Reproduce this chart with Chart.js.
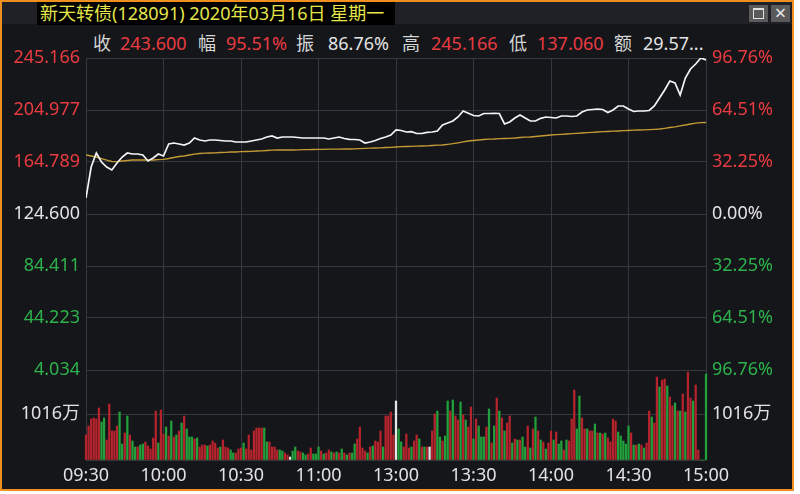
<!DOCTYPE html>
<html>
<head>
<meta charset="utf-8">
<script src="https://cdn.jsdelivr.net/npm/chart.js@4.4.1/dist/chart.umd.min.js"></script>
<style>
  body { margin: 0; width: 800px; height: 494px; overflow: hidden; background: #ffffff;
         font-family: "Noto Sans", "Noto Sans CJK SC", sans-serif; }
  #frame { position: absolute; left: 0; top: 0; width: 794px; height: 491px; box-sizing: border-box;
           border: 2px solid #ef8f1f; background: #14161a; }
  #topbar { position: absolute; left: 2px; top: 2px; width: 790px; height: 22px; background: #1f2126; }
  #title { position: absolute; left: 37px; top: 2px; width: 355px; height: 23px; padding-left: 3px;
           background: #000; color: #e6e64a; font-size: 18px; line-height: 23px; white-space: nowrap; }
  .btn { position: absolute; top: 5px; width: 19px; height: 17px; background: #5a5a5a; }
  #maxi { left: 749px; }
  #maxi span { position: absolute; left: 4px; top: 3px; width: 9px; height: 8px; border: 1px solid #e0e0e0; border-top-width: 2px; }
  #close { left: 771px; color: #e8e8e8; font-size: 20px; line-height: 16px; text-align: center; }
  .hd { position: absolute; top: 31px; font-size: 18px; line-height: 24px; color: #d6d6d6; white-space: nowrap; }
  .red { color: #ea3b41; }
  .wht { color: #e4e4e4; }
  canvas { position: absolute; left: 0; top: 0; }
</style>
</head>
<body>
<div id="frame"></div>
<div id="topbar"></div>
<div id="title">新天转债(128091) 2020年03月16日 星期一</div>
<div class="btn" id="maxi"><span></span></div>
<div class="btn" id="close">×</div>
<div class="hd" style="left:93px">收</div>
<div class="hd red" style="left:120px">243.600</div>
<div class="hd" style="left:198px">幅</div>
<div class="hd red" style="left:226px">95.51%</div>
<div class="hd" style="left:296px">振</div>
<div class="hd wht" style="left:328px">86.76%</div>
<div class="hd" style="left:402px">高</div>
<div class="hd red" style="left:431px">245.166</div>
<div class="hd" style="left:509px">低</div>
<div class="hd red" style="left:537px">137.060</div>
<div class="hd" style="left:614px">额</div>
<div class="hd wht" style="left:643px">29.57...</div>
<canvas id="c" width="800" height="494"></canvas>
<script>
// minute index 0..240 (09:30-11:30, 13:00-15:00)
const minuteTicks = [0, 30, 60, 90, 120, 150, 180, 210, 240];
const timeLabels = ["09:30", "10:00", "10:30", "11:00", "13:00", "13:30", "14:00", "14:30", "15:00"];

// price sampled every 2 minutes
const priceStep = 2;
const price = [
  137.06, 160.92, 171.74, 164.79, 160.92, 158.61, 164.02, 168.65, 171.74, 170.97,
  170.97, 170.20, 165.56, 167.88, 170.97, 169.43, 178.70, 179.47, 178.70, 177.93,
  179.47, 183.34, 181.79, 181.02, 181.79, 181.79, 181.40, 181.02, 181.02, 180.25,
  180.25, 180.25, 181.02, 181.79, 182.56, 184.11, 184.88, 183.34, 184.11, 184.11,
  184.11, 183.72, 183.34, 183.34, 183.34, 183.34, 183.34, 182.56, 183.34, 184.11,
  182.95, 182.33, 182.18, 181.79, 179.47, 180.25, 181.40, 182.95, 184.11, 185.66,
  189.52, 189.13, 187.97, 188.21, 186.82, 186.82, 187.74, 187.97, 188.75, 193.38,
  194.93, 196.48, 199.57, 204.20, 202.43, 200.73, 200.34, 202.27, 202.27, 202.43,
  202.27, 194.16, 195.70, 198.79, 201.11, 198.79, 196.48, 196.48, 198.56, 199.57,
  199.18, 198.79, 200.34, 200.34, 199.95, 200.34, 203.43, 204.98, 205.36, 205.75,
  205.36, 203.05, 204.98, 208.07, 208.07, 205.75, 203.82, 204.20, 204.20, 204.59,
  208.07, 214.25, 220.43, 227.39, 225.84, 216.57, 229.71, 236.66, 240.53, 245.166,
  243.60
];
const avgPrice = [
  170.20, 169.43, 168.65, 167.49, 166.33, 165.18, 165.02, 165.56, 165.95, 166.33,
  166.33, 166.33, 166.33, 166.33, 166.57, 166.88, 167.49, 168.27, 169.04, 169.43,
  170.20, 170.82, 171.36, 171.59, 171.74, 171.90, 172.13, 172.29, 172.52, 172.52,
  172.75, 172.90, 173.06, 173.29, 173.44, 173.68, 173.91, 174.06, 174.06, 174.06,
  174.06, 174.22, 174.29, 174.37, 174.45, 174.53, 174.60, 174.68, 174.68, 174.76,
  174.84, 174.84, 174.99, 175.15, 175.30, 175.46, 175.61, 175.76, 176.00, 176.15,
  176.38, 176.61, 176.77, 176.92, 177.00, 177.15, 177.31, 177.54, 177.77, 177.93,
  178.47, 178.93, 179.63, 180.40, 181.02, 181.41, 181.79, 182.18, 182.41, 182.56,
  182.80, 182.95, 183.11, 183.34, 183.72, 183.96, 184.11, 184.50, 184.88, 185.27,
  185.66, 185.89, 186.20, 186.43, 186.74, 186.97, 187.20, 187.43, 187.74, 187.97,
  188.21, 188.36, 188.59, 188.75, 188.98, 189.13, 189.36, 189.52, 189.67, 189.83,
  190.06, 190.29, 190.83, 191.45, 191.99, 192.76, 193.38, 194.16, 194.78, 195.16,
  195.32
];

// volume per minute (万), 241 bars
const volume = [
  552, 751, 906, 928, 906, 1149, 839, 928, 442, 1237,
  641, 641, 751, 1060, 353, 596, 972, 552, 420, 287,
  287, 331, 353, 398, 309, 243, 486, 1082, 375, 1104,
  574, 729, 530, 861, 508, 552, 641, 817, 972, 685,
  508, 508, 464, 486, 287, 331, 331, 309, 331, 420,
  375, 265, 287, 442, 287, 265, 221, 155, 155, 243,
  265, 375, 243, 552, 221, 641, 707, 707, 707, 707,
  398, 398, 287, 287, 221, 221, 199, 155, 110, 66,
  199, 287, 199, 177, 155, 110, 133, 265, 133, 133,
  287, 199, 133, 155, 221, 177, 155, 177, 155, 243,
  155, 110, 155, 155, 353, 464, 729, 265, 199, 155,
  287, 309, 420, 398, 641, 287, 972, 972, 1060, 552,
  1303,
  685, 398, 287, 574, 265, 287, 420, 552, 464, 287,
  287, 287, 287, 641, 1016, 1082, 508, 420, 530, 1303,
  1082, 1325, 972, 884, 1281, 994, 884, 729, 1171, 464,
  906, 751, 508, 508, 729, 1127, 375, 751, 1369, 1082,
  928, 641, 817, 972, 375, 464, 442, 442, 508, 287,
  751, 265, 685, 950, 641, 442, 398, 243, 375, 641,
  442, 618, 353, 420, 221, 442, 420, 906, 1546, 685,
  1414, 928, 685, 685, 641, 641, 795, 596, 596, 574,
  596, 486, 398, 906, 861, 618, 530, 420, 353, 751,
  596, 331, 331, 353, 331, 265, 375, 1082, 950, 817,
  1833, 1612, 1767, 1789, 1635, 1392, 1193, 1259, 1082, 1082,
  1458, 1060, 1944, 1369, 1303, 1657, 221, 0, 0, 1900
];
// r = up, g = down, w = flat
const volDir = (
  "rrrrrrggrr" + "rrrggrgrgg" + "rggrrrrrgr" + "rgrgrgrgrg" + "ggrgrrrgrr" + "rrgrrrggrr" +
  "rgrrrrrrrg" + "grrrrggrrw" + "ggrrggrrgg" + "grgrrgrgrg" + "rgrggrrrrg" + "rgrrrgrrrr" + "w" +
  "ggrrrgrrgr" + "grwrrggrgg" + "rgrrgrgrrg" + "rgggrgrgrg" + "rgrrgrgrgg" + "rgrgrgrgrr" +
  "grggrgrrrg" + "grrgrrgrgr" + "grrrrggggg" + "rgrgrgrrgr" + "rgrrgrrgrg" + "rgrrgrrggg"
).split("");

const preClose = 124.6;
const priceTicks = [245.166, 204.977, 164.789, 124.600, 84.411, 44.223, 4.034];
const pctLabels = ["96.76%", "64.51%", "32.25%", "0.00%", "32.25%", "64.51%", "96.76%"];
const volTick = 1016;
const volMax = 1988;

const FONT = '"Noto Sans", "Noto Sans CJK SC", sans-serif';
const RED = "#ea3b41";
const GREEN = "#2eb24c";
const WHITE = "#e2e2e2";
const GRID = "#35383e";
const barColors = { r: "#b5242c", g: "#23a03b", w: "#e6e6e6" };

function tickColor(ctx) {
  const v = ctx.tick.value;
  if (Math.abs(v - preClose) < 0.001) return WHITE;
  return v > preClose ? RED : GREEN;
}

const tickFont = { family: FONT, size: 18 };

new Chart(document.getElementById("c"), {
  type: "line",
  data: {
    datasets: [
      {
        data: price.map((p, i) => ({ x: i * priceStep, y: p })),
        yAxisID: "yP",
        borderColor: "#f4f4f4",
        borderWidth: 1.7,
        pointRadius: 0,
        order: 0,
      },
      {
        data: avgPrice.map((p, i) => ({ x: i * priceStep, y: p })),
        yAxisID: "yP",
        borderColor: "#c49a35",
        borderWidth: 1.3,
        pointRadius: 0,
        order: 1,
      },
      {
        type: "bar",
        data: volume.map((v, i) => ({ x: i, y: v })),
        yAxisID: "yV",
        backgroundColor: volDir.map((d) => barColors[d]),
        barThickness: 1.6,
        clip: false,
        order: 2,
      },
    ],
  },
  options: {
    responsive: false,
    animation: false,
    devicePixelRatio: 1,
    layout: { padding: { top: 58, left: 0, right: 0, bottom: 0 } },
    plugins: { legend: { display: false }, tooltip: { enabled: false } },
    scales: {
      x: {
        type: "linear",
        min: 0,
        max: 240,
        offset: false,
        grid: { color: GRID, drawTicks: false, offset: false },
        border: { display: false },
        afterBuildTicks: (s) => { s.ticks = minuteTicks.map((v) => ({ value: v })); },
        ticks: {
          color: WHITE,
          font: tickFont,
          padding: 5,
          maxRotation: 0,
          autoSkip: false,
          callback: (v, i) => timeLabels[i],
        },
        afterFit: (s) => { s.height = 34; },
      },
      yP: {
        position: "left",
        stack: "l",
        stackWeight: 312,
        weight: 2,
        min: 4.034,
        max: 245.166,
        grid: { color: GRID, drawTicks: false },
        border: { display: false },
        afterBuildTicks: (s) => { s.ticks = priceTicks.map((v) => ({ value: v })); },
        ticks: { font: tickFont, padding: 6, color: tickColor, callback: (v) => v.toFixed(3) },
        afterFit: (s) => { s.width = 86; },
      },
      yV: {
        position: "left",
        stack: "l",
        stackWeight: 90,
        weight: 1,
        min: 0,
        max: volMax,
        grid: { color: GRID, drawTicks: false },
        border: { display: false },
        afterBuildTicks: (s) => { s.ticks = [{ value: 0 }, { value: volTick }]; },
        ticks: { font: tickFont, padding: 6, color: WHITE, callback: (v) => (v ? v + "万" : "") },
        afterFit: (s) => { s.width = 86; },
      },
      yPct: {
        position: "right",
        stack: "r",
        stackWeight: 312,
        weight: 1,
        min: 4.034,
        max: 245.166,
        grid: { display: false, drawTicks: false },
        border: { display: false },
        afterBuildTicks: (s) => { s.ticks = priceTicks.map((v) => ({ value: v })); },
        ticks: { font: tickFont, padding: 6, color: tickColor, callback: (v, i) => pctLabels[i] },
        afterFit: (s) => { s.width = 94; },
      },
      yVR: {
        position: "right",
        stack: "r",
        stackWeight: 90,
        weight: 2,
        min: 0,
        max: volMax,
        grid: { display: false, drawTicks: false },
        border: { display: false },
        afterBuildTicks: (s) => { s.ticks = [{ value: volTick }]; },
        ticks: { font: tickFont, padding: 6, color: WHITE, callback: (v) => v + "万" },
        afterFit: (s) => { s.width = 94; },
      },
    },
  },
});
</script>
</body>
</html>
